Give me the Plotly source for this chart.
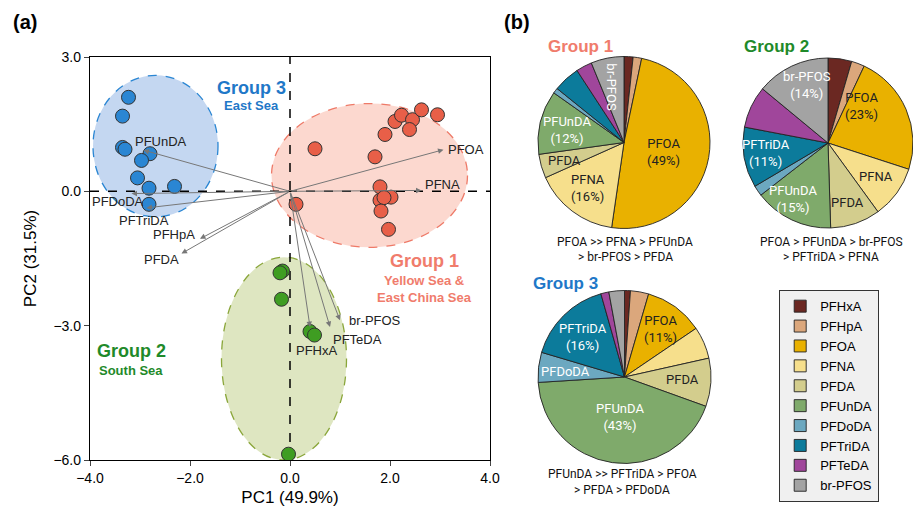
import math
import plotly.graph_objects as go

W, H = 913, 519

# ---------------- PCA scores ----------------
g1_x = [0.50, 1.70, 1.90, 2.10, 2.23, 2.45, 2.39, 2.63, 2.95, 1.80, 2.02, 1.80, 1.88, 1.82, 1.97, 0.12]
g1_y = [0.95, 0.77, 1.27, 1.56, 1.70, 1.60, 1.38, 1.82, 1.71, 0.10, -0.13, -0.20, -0.14, -0.44, -0.85, -0.29]
g2_x = [-0.15, -0.20, -0.17, 0.40, 0.49, -0.03]
g2_y = [-1.78, -1.82, -2.41, -3.13, -3.21, -5.87]
g3_x = [-3.23, -3.35, -3.35, -3.30, -2.80, -2.97, -3.05, -2.82, -2.31, -2.82]
g3_y = [2.10, 1.68, 0.98, 0.94, 0.84, 0.69, 0.30, 0.07, 0.11, -0.29]

# ---------------- PCA loadings ----------------
load_names = ["PFOA", "PFNA", "PFUnDA", "PFDoDA", "PFTriDA", "PFHpA", "PFDA", "br-PFOS", "PFTeDA", "PFHxA"]
load_x = [3.07, 2.63, -2.93, -3.17, -2.87, -1.80, -2.17, 1.00, 0.80, 0.40]
load_y = [0.93, 0.02, 0.92, -0.05, -0.37, -1.06, -1.39, -2.88, -3.03, -3.03]

# ---------------- Group ellipses (x0, x1, y0, y1) ----------------
ell_g1 = [-0.37, 3.55, -1.25, 1.96]
ell_g2 = [-1.37, 1.13, -6.0, -1.47]
ell_g3 = [-3.94, -1.44, -0.57, 2.59]

# ---------------- Composition (%) ----------------
compounds = ["PFHxA", "PFHpA", "PFOA", "PFNA", "PFDA", "PFUnDA", "PFDoDA", "PFTriDA", "PFTeDA", "br-PFOS"]
group1_pct = [1.7, 1.6, 49.0, 16.0, 4.5, 12.0, 1.0, 5.0, 3.0, 6.2]
group2_pct = [4.5, 2.5, 23.0, 10.0, 9.5, 15.0, 2.0, 11.5, 8.0, 14.0]
group3_pct = [1.1, 3.4, 11.0, 6.0, 9.0, 43.5, 5.6, 16.0, 1.5, 2.9]
compound_colors = ["#6b2822", "#dba77c", "#e9b100", "#f6df8c", "#d3cd8d",
                   "#7faa6b", "#6ca8c0", "#0c7b9b", "#a0469b", "#a3a3a3"]

FONT = "Liberation Sans, Arial, sans-serif"
NARROW = "Liberation Sans Narrow, Arial Narrow, Roboto, Liberation Sans, sans-serif"


def PX(X):
    return X / W


def PY(Y):
    return 1 - Y / H


fig = go.Figure()

XD = [PX(90), PX(490)]
YD = [PY(460), PY(57)]


def ell(box, fill, line):
    return dict(type="circle", xref="x", yref="y", x0=box[0], x1=box[1], y0=box[2], y1=box[3],
                fillcolor=fill, line=dict(color=line, width=1.3, dash="dash"), layer="below")


shapes = [
    ell(ell_g3, "rgba(160,190,232,0.62)", "#2a86d3"),
    ell(ell_g1, "rgba(250,190,175,0.6)", "#ee7a68"),
    ell(ell_g2, "rgba(205,217,160,0.65)", "#8aa63a"),
    dict(type="line", xref="x", yref="y", x0=0, x1=0, y0=-6, y1=3,
         line=dict(color="black", width=1.5, dash="dash"), layer="below"),
    dict(type="line", xref="x", yref="y", x0=-4, x1=4, y0=0, y1=0,
         line=dict(color="black", width=1.5, dash="dash"), layer="below"),
]

mk = lambda c: dict(size=14, color=c, line=dict(color="#333333", width=1))
fig.add_trace(go.Scatter(x=g3_x, y=g3_y, mode="markers", marker=mk("#2a86d3"), showlegend=False))
fig.add_trace(go.Scatter(x=g1_x, y=g1_y, mode="markers", marker=mk("#e85f48"), showlegend=False))
fig.add_trace(go.Scatter(x=g2_x, y=g2_y, mode="markers", marker=mk("#3f9d22"), showlegend=False))

annotations = []
for n, lx, ly in zip(load_names, load_x, load_y):
    annotations.append(dict(x=lx, y=ly, ax=0, ay=0, xref="x", yref="y", axref="x", ayref="y",
                            text="", showarrow=True, arrowhead=2, arrowsize=1.1, arrowwidth=1,
                            arrowcolor="#777777"))
label_pos = {
    "PFOA": (3.12, 0.94, "left"), "PFNA": (2.66, 0.16, "left"),
    "PFUnDA": (-2.58, 1.12, "center"), "PFDoDA": (-3.45, -0.22, "center"),
    "PFTriDA": (-2.92, -0.66, "center"), "PFHpA": (-2.33, -0.96, "center"),
    "PFDA": (-2.58, -1.52, "center"), "br-PFOS": (1.14, -2.88, "left"),
    "PFTeDA": (0.82, -3.31, "left"), "PFHxA": (0.08, -3.55, "left"),
}
for n in load_names:
    px, py, anc = label_pos[n]
    annotations.append(dict(x=px, y=py, xref="x", yref="y", text=n, showarrow=False,
                            xanchor=anc, font=dict(family=FONT, size=13, color="#222")))


def paper_text(xp, yp, text, size, color, bold=True, family=FONT, xanchor="center", angle=0):
    return dict(x=PX(xp), y=PY(yp), xref="paper", yref="paper", text=("<b>%s</b>" % text) if bold else text,
                showarrow=False, xanchor=xanchor, yanchor="middle", textangle=angle,
                font=dict(family=family, size=size, color=color))


annotations += [
    paper_text(251, 88, "Group 3", 18, "#1f78c8"),
    paper_text(251, 105, "East Sea", 13, "#1f78c8"),
    paper_text(424, 261, "Group 1", 18, "#f07c6c"),
    paper_text(424, 280, "Yellow Sea &", 13, "#f07c6c"),
    paper_text(424, 297, "East China Sea", 13, "#f07c6c"),
    paper_text(131, 351, "Group 2", 18, "#1f8a2a"),
    paper_text(131, 370, "South Sea", 13, "#1f8a2a"),
    paper_text(25, 22, "(a)", 20, "black"),
    paper_text(517, 22, "(b)", 20, "black"),
    paper_text(580, 46, "Group 1", 17, "#f07c6c"),
    paper_text(776, 46, "Group 2", 17, "#1f8a2a"),
    paper_text(565, 283, "Group 3", 17, "#1f78c8"),
    paper_text(625, 242, "PFOA >> PFNA > PFUnDA", 12, "#111", bold=False, family=NARROW),
    paper_text(625, 257, "> br-PFOS > PFDA", 12, "#111", bold=False, family=NARROW),
    paper_text(831, 242, "PFOA > PFUnDA > br-PFOS", 12, "#111", bold=False, family=NARROW),
    paper_text(831, 257, "> PFTriDA > PFNA", 12, "#111", bold=False, family=NARROW),
    paper_text(622, 474, "PFUnDA >> PFTriDA > PFOA", 12, "#111", bold=False, family=NARROW),
    paper_text(622, 490, "> PFDA > PFDoDA", 12, "#111", bold=False, family=NARROW),
]

# pies: (center x, center y, radius) in pixels
pie_geo = [(624, 142.5, 86), (828, 143, 85), (624.5, 377, 86.5)]
pie_domains = [dict(x=[PX(cx - r), min(1.0, PX(cx + r))], y=[PY(cy + r), PY(cy - r)]) for cx, cy, r in pie_geo]

for i, (vals, dom) in enumerate(zip([group1_pct, group2_pct, group3_pct], pie_domains)):
    fig.add_trace(go.Pie(labels=compounds, values=vals, domain=dom, sort=False, direction="clockwise",
                         rotation=0, textinfo="none", hoverinfo="label+percent",
                         marker=dict(colors=compound_colors, line=dict(color="#222", width=0.9)),
                         showlegend=(i == 0)))

WHITE, DARK = "#ffffff", "#222222"
pie_labels = [
    [("PFOA<br>(49%)", 0.47, 103, DARK, 0), ("PFNA<br>(16%)", 0.675, 218, DARK, 0),
     ("PFDA", 0.72, 253.5, DARK, 0), ("PFUnDA<br>(12%)", 0.68, 282, WHITE, 0),
     ("br-PFOS", 0.66, 347.5, WHITE, 90)],
    [("br-PFOS<br>(14%)", 0.72, 340, WHITE, 0), ("PFOA<br>(23%)", 0.59, 42, DARK, 0),
     ("PFNA", 0.69, 125, DARK, 0), ("PFDA", 0.73, 162, DARK, 0),
     ("PFUnDA<br>(15%)", 0.78, 212, WHITE, 0), ("PFTriDA<br>(11%)", 0.74, 261, WHITE, 0)],
    [("PFOA<br>(11%)", 0.70, 37, DARK, 0), ("PFDA", 0.67, 92.6, DARK, 0),
     ("PFUnDA<br>(43%)", 0.47, 187, WHITE, 0), ("PFDoDA", 0.69, 275, WHITE, 0),
     ("PFTriDA<br>(16%)", 0.66, 314, WHITE, 0)],
]
for (cx, cy, R), labs in zip(pie_geo, pie_labels):
    for txt, r, ang, col, ta in labs:
        a = math.radians(ang)
        annotations.append(paper_text(cx + r * R * math.sin(a), cy - r * R * math.cos(a),
                                      txt, 13, col, bold=False, family=NARROW, angle=ta))

fig.update_layout(
    width=W, height=H, margin=dict(l=0, r=0, t=0, b=0),
    paper_bgcolor="white", plot_bgcolor="white",
    font=dict(family=FONT, color="black"),
    xaxis=dict(domain=XD, range=[-4, 4], tickvals=[-4, -2, 0, 2, 4],
               ticktext=["−4.0", "−2.0", "0.0", "2.0", "4.0"], ticks="outside", ticklen=5,
               showgrid=False, zeroline=False, showline=True, mirror=True, linecolor="black", linewidth=1.3,
               automargin=False,
               tickfont=dict(size=14), title=dict(text="PC1 (49.9%)", font=dict(size=17), standoff=6)),
    yaxis=dict(domain=YD, range=[-6, 3], tickvals=[-6, -3, 0, 3],
               ticktext=["−6.0", "−3.0", "0.0", "3.0"], ticks="outside", ticklen=5,
               showgrid=False, zeroline=False, showline=True, mirror=True, linecolor="black", linewidth=1.3,
               automargin=False,
               tickfont=dict(size=14), title=dict(text="PC2 (31.5%)", font=dict(size=17), standoff=12)),
    shapes=shapes, annotations=annotations,
    legend=dict(x=PX(779), y=PY(290), xanchor="left", yanchor="top", bgcolor="#f0f0f0",
                bordercolor="#333", borderwidth=1.2, font=dict(family=FONT, size=13),
                tracegroupgap=0, itemwidth=30),
)

fig.write_html("out.html")
